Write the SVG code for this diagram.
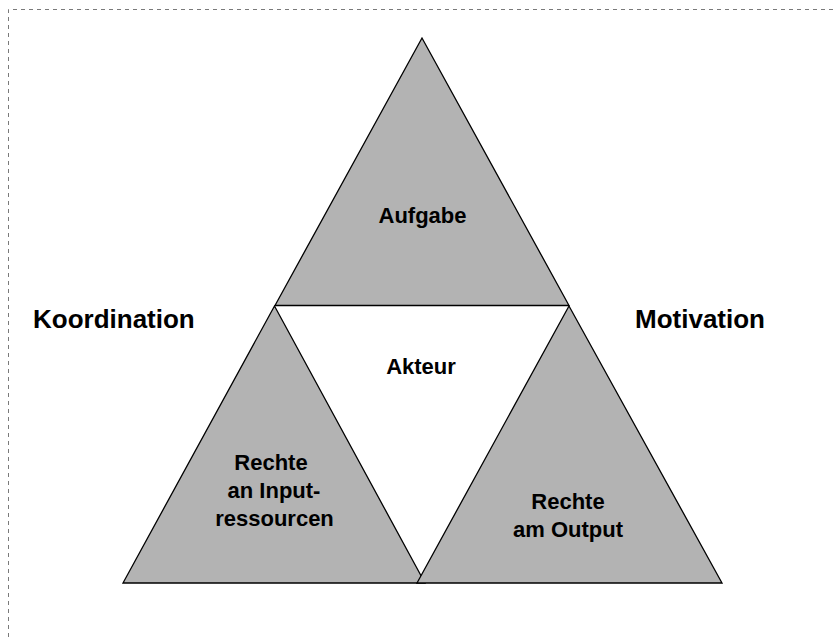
<svg xmlns="http://www.w3.org/2000/svg" width="836" height="637" viewBox="0 0 836 637">
<style>
.tri{fill:#b3b3b3;stroke:#000;stroke-width:1.3;stroke-linejoin:miter}
.lbl{font-family:"Liberation Sans",Arial,sans-serif;font-weight:bold;font-size:22px;fill:#000;text-anchor:middle}
.big{font-family:"Liberation Sans",Arial,sans-serif;font-weight:bold;font-size:26px;fill:#000}
</style>
<rect width="836" height="637" fill="#fff"/>
<path d="M8.5,637 L8.5,9.5 L836,9.5" fill="none" stroke="#7a7a7a" stroke-width="1" stroke-dasharray="4,4"/>
<g id="aufgabe">
<polygon class="tri" points="422,38 275,305.5 569,305.5"/>
<text class="lbl" x="422.5" y="222.5">Aufgabe</text>
</g>
<g id="input">
<polygon class="tri" points="274.5,306 123,583 425,583"/>
<text class="lbl" x="271" y="470">Rechte</text>
<text class="lbl" x="274" y="498">an Input-</text>
<text class="lbl" x="274.5" y="526">ressourcen</text>
</g>
<g id="output">
<polygon class="tri" points="569,306 417,583 722,583"/>
<text class="lbl" x="568" y="509">Rechte</text>
<text class="lbl" x="568" y="537">am Output</text>
</g>
<g id="akteur">
<text class="lbl" x="421" y="374">Akteur</text>
</g>
<g id="koordination">
<text class="big" x="33" y="328">Koordination</text>
</g>
<g id="motivation">
<text class="big" x="635" y="328">Motivation</text>
</g>
<g id="connectors"></g>
</svg>
